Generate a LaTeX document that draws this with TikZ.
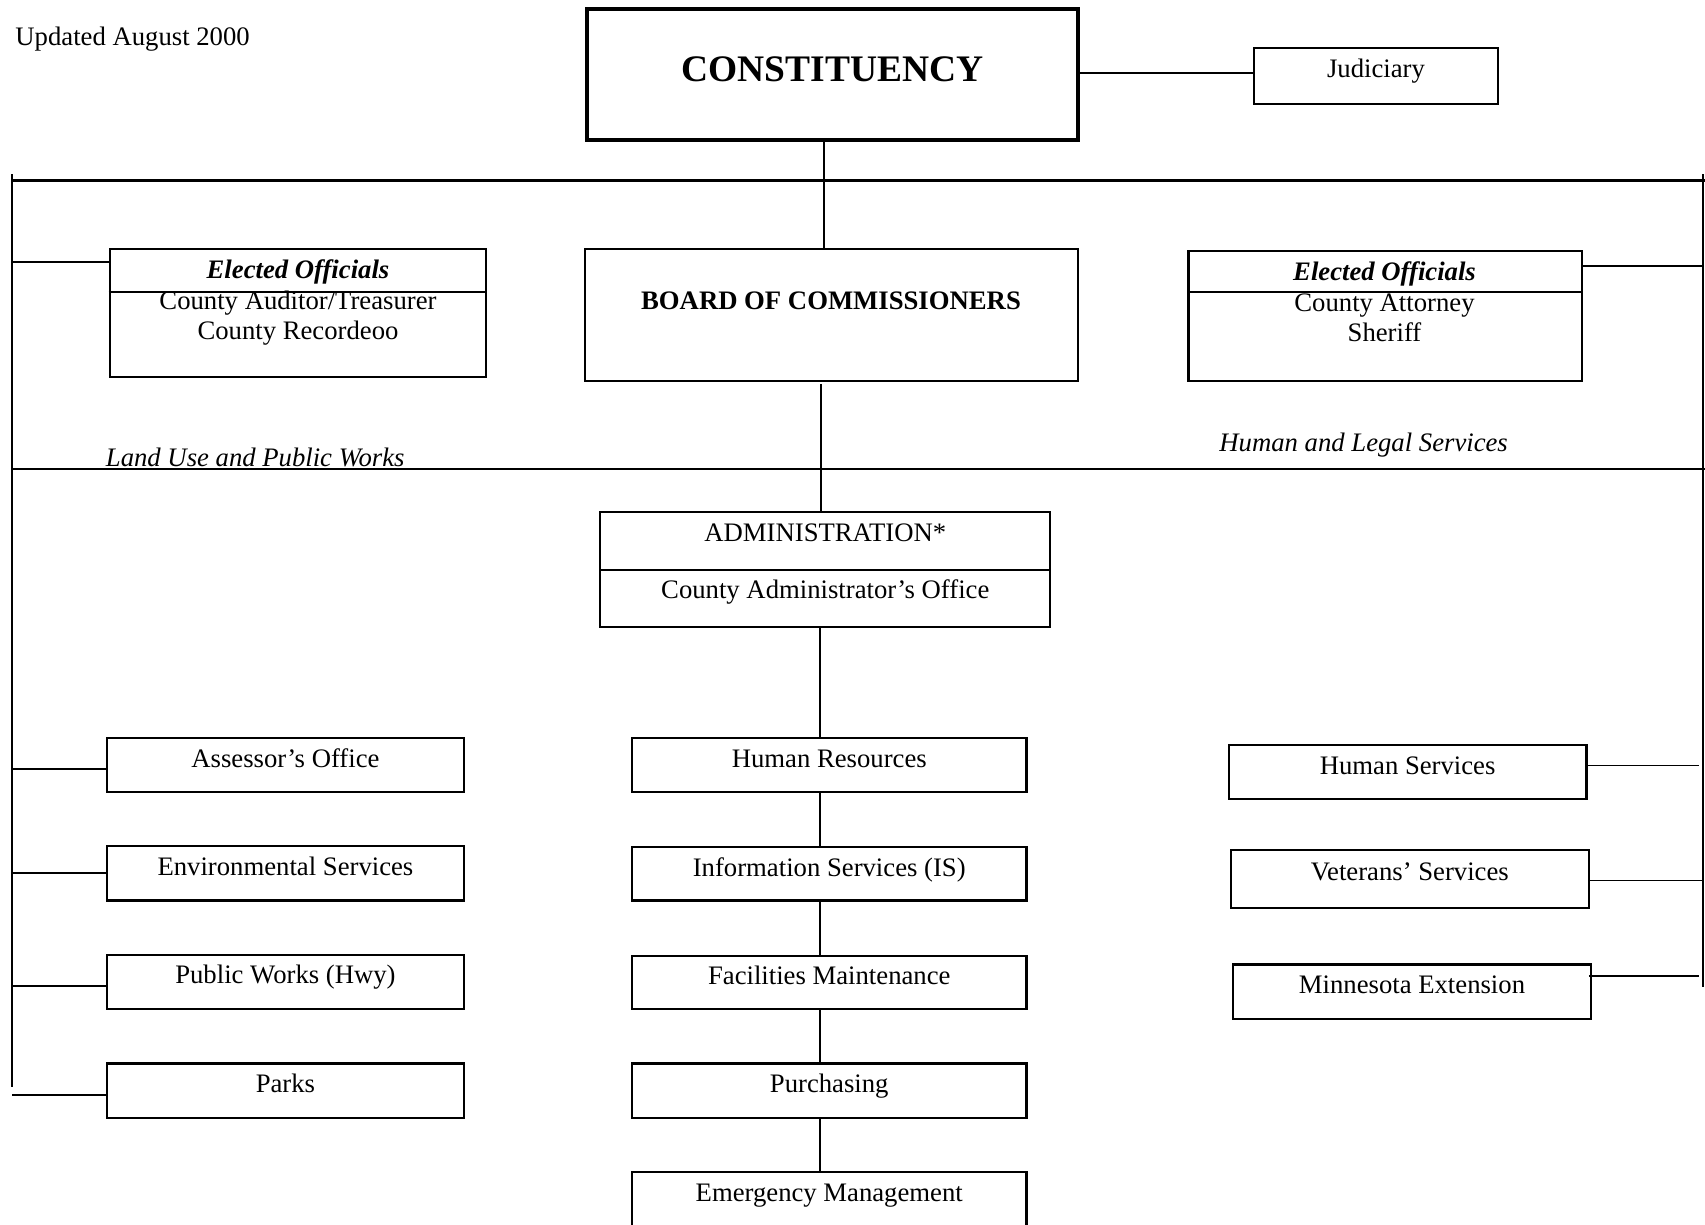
\documentclass[tikz,border=0pt]{standalone}
\usepackage{fontspec}
\setmainfont{Liberation Serif}
\usetikzlibrary{fit}
\newcommand\bodysize{\fontsize{12.4}{14.2}\selectfont}
\tikzset{
  obox/.style={draw, line width=1pt, inner sep=0pt},
  txt/.style={anchor=base, inner sep=0pt, font=\bodysize},
  conn/.style={line width=0.8pt},
  bus/.style={line width=1pt},
}
\newcommand\mybox[6]{%
  \node[obox, fit={(#2,#3) (#4,#5)}] (#1) {};
  \node[txt] (#1-t) at ({(#2+#4)/2},{#3+29}) {#6};
}
\begin{document}
\begin{tikzpicture}[x=0.4645pt, y=-0.4645pt]
\useasboundingbox (0,0) rectangle (1705,1224);

% header
\node[txt, anchor=base west] (upd) at (15,45) {Updated August 2000};

% constituency and judiciary
\node[obox, line width=1.8pt, fit={(587,9) (1078,140)}] (con) {};
\node[txt, font=\fontsize{17.4}{20}\selectfont\bfseries] (con-t) at (832.5,81) {CONSTITUENCY};
\node[obox, fit={(1254,48) (1498,104)}] (jud) {};
\node[txt] (jud-t) at (1376,77.5) {Judiciary};
\coordinate (cj) at (1100,73);
\draw[conn] (cj -| con.east) -- (cj -| jud.west);

% buses
\coordinate (busTL) at (12,180.5);
\coordinate (busTR) at (1705,180.5);
\draw[bus] (busTL) -- (busTR);
\coordinate (lbTop) at (12,174);
\coordinate (lbBot) at (12,1087);
\draw[bus] (lbTop) -- (lbBot);
\coordinate (rbTop) at (1703,174);
\coordinate (rbBot) at (1703,987);
\draw[bus] (rbTop) -- (rbBot);
\coordinate (busML) at (12,468.7);
\coordinate (busMR) at (1705,468.7);
\draw[bus] (busML) -- (busMR);

% board
\node[obox, fit={(585,249) (1077.6,380.6)}] (board) {};
\node[txt, font=\bodysize\bfseries] (board-t) at (831,309.5) {BOARD OF COMMISSIONERS};
\coordinate (c1) at (824,0);
\draw[conn] (con.south -| c1) -- (board.north -| c1);

% left elected officials
\node[obox, fit={(110,249) (486,377)}] (eo1) {};
\coordinate (eo1d) at (108.5,292);
\draw[conn, line width=0.9pt] (eo1d) -- (eo1d -| eo1.east);
\node[txt, font=\bodysize\bfseries\itshape] (eo1-t) at (298,278.4) {Elected Officials};
\node[txt] (eo1-a) at (298,309.8) {County Auditor/Treasurer};
\node[txt] (eo1-b) at (298,339.1) {County Recordeoo};
\coordinate (L0) at (12,262);
\draw[conn] (L0) -- (L0 -| eo1.west);

% right elected officials
\node[obox, fit={(1188.5,251) (1582,380.6)}] (eo2) {};
\coordinate (eo2d) at (1188.5,292);
\draw[conn, line width=0.9pt] (eo2d) -- (eo2d -| eo2.east);
\node[txt, font=\bodysize\bfseries\itshape] (eo2-t) at (1384.5,280.2) {Elected Officials};
\node[txt] (eo2-a) at (1384.5,311.6) {County Attorney};
\node[txt] (eo2-b) at (1384.5,341.3) {Sheriff};
\coordinate (R0) at (1703,266);
\draw[conn] (R0 -| eo2.east) -- (R0);

% group labels
\node[txt, anchor=base west, font=\bodysize\itshape] (lu) at (105.5,466) {Land Use and Public Works};
\node[txt, anchor=base west, font=\bodysize\itshape] (hl) at (1219,451.5) {Human and Legal Services};

% administration
\node[obox, fit={(600,512.2) (1050.4,627.4)}] (adm) {};
\coordinate (admd) at (600,569.6);
\draw[conn, line width=0.9pt] (admd) -- (admd -| adm.east);
\node[txt] (adm-t) at (825.3,541.1) {ADMINISTRATION*};
\node[txt] (adm-b) at (825.3,598.9) {County Administrator’s Office};
\coordinate (c2) at (821,384);
\draw[conn] (c2) -- (c2 |- adm.north);

% centre column
\mybox{hr}{632}{738.3}{1026.5}{791.6}{Human Resources}
\mybox{is}{632}{847.1}{1026.5}{900.4}{Information Services (IS)}
\mybox{fm}{632}{955.8}{1026.5}{1009.1}{Facilities Maintenance}
\mybox{pu}{632}{1063.5}{1026.5}{1117.8}{Purchasing}
\mybox{em}{632}{1172.2}{1026.5}{1240}{Emergency Management}
\coordinate (c3) at (820,0);
\draw[conn] (adm.south -| c3) -- (hr.north -| c3);
\draw[conn] (hr.south -| c3) -- (is.north -| c3);
\draw[conn] (is.south -| c3) -- (fm.north -| c3);
\draw[conn] (fm.south -| c3) -- (pu.north -| c3);
\draw[conn] (pu.south -| c3) -- (em.north -| c3);

% left column
\mybox{as}{106.6}{738.3}{464.3}{791.6}{Assessor’s Office}
\mybox{en}{106.6}{846}{464.3}{900.4}{Environmental Services}
\mybox{pw}{106.6}{954.7}{464.3}{1009.1}{Public Works (Hwy)}
\mybox{pk}{106.6}{1063.5}{464.3}{1117.8}{Parks}
\coordinate (L1) at (12,768.8);
\coordinate (L2) at (12,873.2);
\coordinate (L3) at (12,986.3);
\coordinate (L4) at (12,1095);
\draw[conn] (L1) -- (L1 -| as.west);
\draw[conn] (L2) -- (L2 -| en.west);
\draw[conn] (L3) -- (L3 -| pw.west);
\draw[conn] (L4) -- (L4 -| pk.west);

% right column
\node[obox, fit={(1228.8,744.9) (1586.5,799.2)}] (hs) {};
\node[txt] (hs-t) at (1407.6,774) {Human Services};
\node[obox, fit={(1231,850.3) (1588.7,908)}] (vs) {};
\node[txt] (vs-t) at (1409.8,880) {Veterans’ Services};
\node[obox, fit={(1233,964.5) (1590.9,1018.9)}] (mn) {};
\node[txt] (mn-t) at (1412,993) {Minnesota Extension};
\coordinate (R1) at (1698.5,765.5);
\coordinate (R2) at (1703,880.6);
\coordinate (R3) at (1698.5,976.2);
\draw[conn] (R1 -| hs.east) -- (R1);
\draw[conn] (R2 -| vs.east) -- (R2);
\draw[conn] ([xshift=-1.5pt]R3 -| mn.east) -- (R3);
\end{tikzpicture}
\end{document}
